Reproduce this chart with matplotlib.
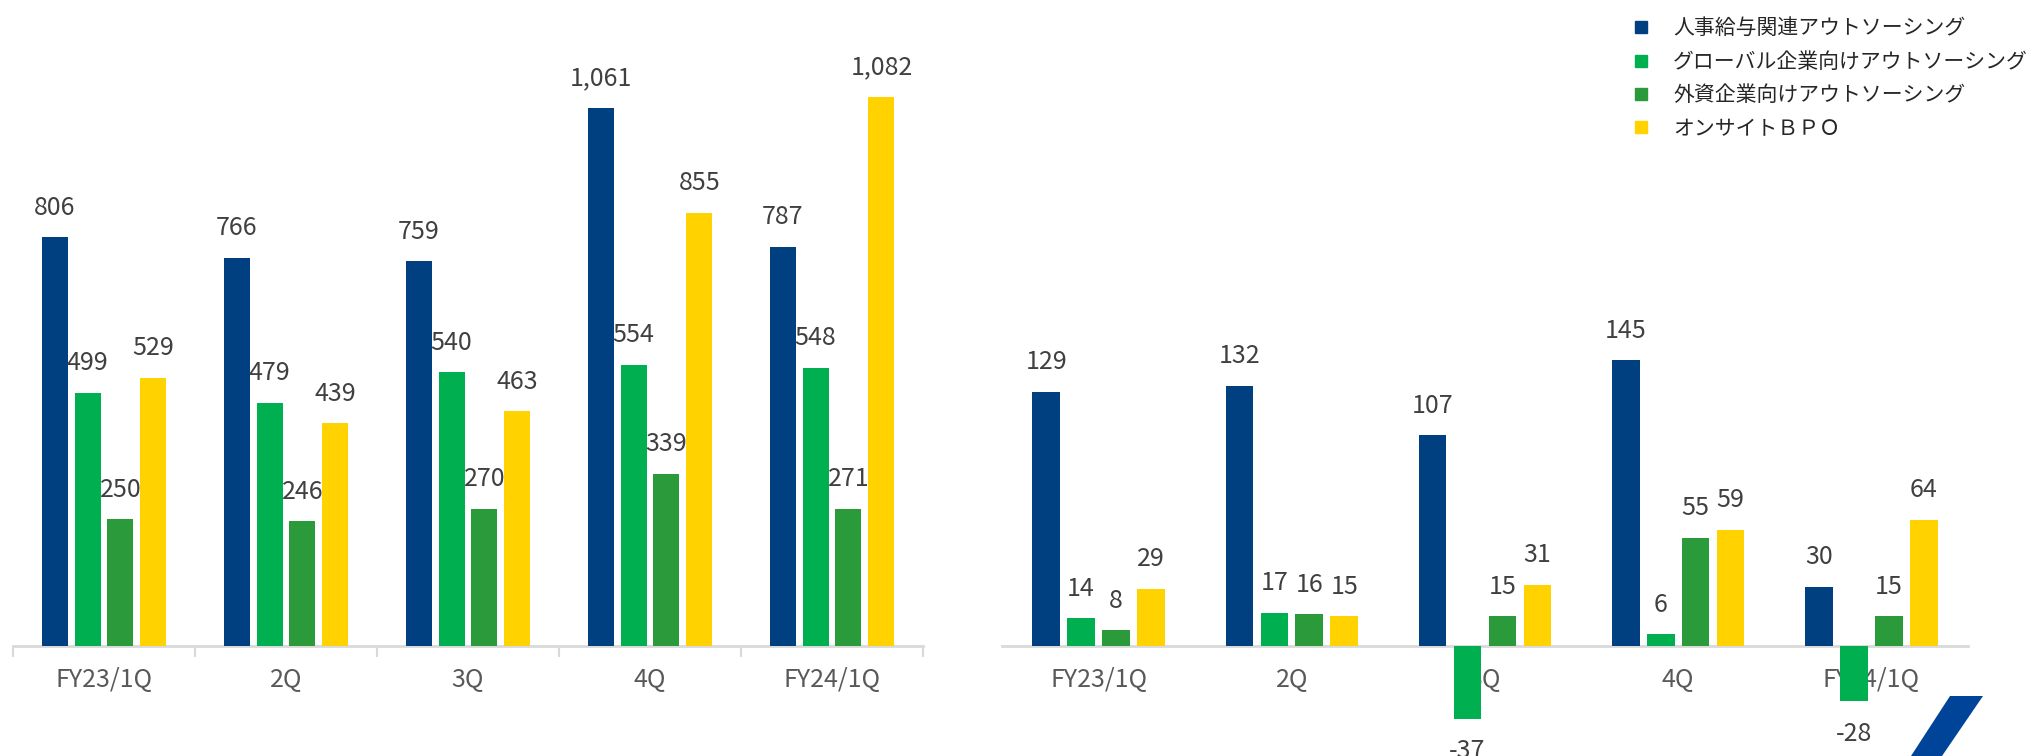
import numpy as np
import matplotlib
matplotlib.use("agg")
import matplotlib.pyplot as plt
from matplotlib.lines import Line2D
from matplotlib.patches import Polygon

plt.rcParams['font.family'] = ['Noto Sans CJK JP', 'DejaVu Sans']

# Data
quarters = ['FY23/1Q', '2Q', '3Q', '4Q', 'FY24/1Q']
series_names = ['人事給与関連アウトソーシング', 'グローバル企業向けアウトソーシング',
                '外資企業向けアウトソーシング', 'オンサイトＢＰＯ']
colors = ['#003f80', '#00b050', '#2a9a3b', '#ffd200']

# left chart (sales)
payroll_sales = [806, 766, 759, 1061, 787]
global_sales = [499, 479, 540, 554, 548]
foreign_sales = [250, 246, 270, 339, 271]
onsite_sales = [529, 439, 463, 855, 1082]

# right chart (profit)
payroll_profit = [129, 132, 107, 145, 30]
global_profit = [14, 17, -37, 6, -28]
foreign_profit = [8, 16, 15, 55, 15]
onsite_profit = [29, 15, 31, 59, 64]

W, H = 2033, 756
fig = plt.figure(figsize=(W/100, H/100), dpi=100)

label_col = '#404040'
tick_col = '#595959'
axis_col = '#d9d9d9'
pitch = 0.181
width = 0.143


def draw(ax, data, ylim, ticks):
    x = np.arange(len(quarters))
    for i, vals in enumerate(data):
        off = (i - 1.5) * pitch
        bars = ax.bar(x + off, vals, width, color=colors[i], zorder=2)
        for b, v in zip(bars, vals):
            if v >= 0:
                ax.annotate(f"{v:,}", (b.get_x() + b.get_width()/2, v),
                            xytext=(0, 12), textcoords='offset points',
                            ha='center', va='bottom', fontsize=18, color=label_col)
            else:
                ax.annotate(f"{v:,}", (b.get_x() + b.get_width()/2, v),
                            xytext=(0, -14), textcoords='offset points',
                            ha='center', va='top', fontsize=18, color=label_col)
    ax.set_xlim(-0.5, 4.5)
    ax.set_ylim(*ylim)
    ax.set_axisbelow(True)
    for s in ['top', 'left', 'right']:
        ax.spines[s].set_visible(False)
    ax.spines['bottom'].set_position(('data', 0))
    ax.spines['bottom'].set_color(axis_col)
    ax.spines['bottom'].set_linewidth(2)
    ax.spines['bottom'].set_zorder(1)
    ax.set_yticks([])
    ax.set_xticks(x)
    ax.set_xticklabels(quarters)
    ax.tick_params(axis='x', which='major', length=0, pad=15, labelsize=18, labelcolor=tick_col)
    if ticks:
        ax.set_xticks(np.arange(-0.5, 5, 1), minor=True)
        ax.tick_params(axis='x', which='minor', length=8, width=1.5, color=axis_col)
    ax.patch.set_alpha(0)


ax1 = fig.add_axes([13/W, 0, 910/W, 1])
draw(ax1, [payroll_sales, global_sales, foreign_sales, onsite_sales],
     (-110/0.507, 646/0.507), True)

ax2 = fig.add_axes([1002/W, 0, 966/W, 1])
draw(ax2, [payroll_profit, global_profit, foreign_profit, onsite_profit],
     (-110/1.97, 646/1.97), False)

handles = [Line2D([], [], marker='s', linestyle='none', markersize=9,
                  markerfacecolor=c, markeredgecolor=c) for c in colors]
fig.legend(handles, series_names, loc='upper left',
           bbox_to_anchor=(1622/W, 1 - 7/H), frameon=False, fontsize=15,
           handlelength=0.8, handletextpad=1.15, labelspacing=0.55,
           labelcolor='#262626', borderpad=0)

# decorative slash at bottom right
fig.patches.append(Polygon([(1950/W, 1 - 696/H), (1983/W, 1 - 696/H),
                            (1942/W, 0), (1911/W, 0)],
                           closed=True, transform=fig.transFigure,
                           facecolor='#00449a', edgecolor='none'))

fig.savefig("out.png", dpi=100)
